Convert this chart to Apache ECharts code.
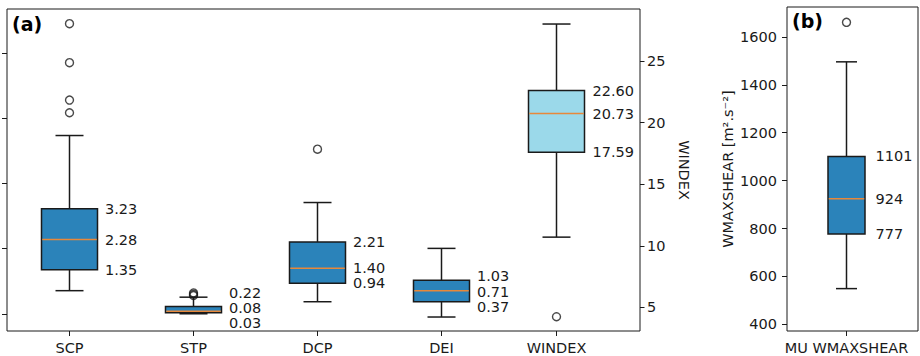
<!DOCTYPE html>
<html>
<head>
<meta charset="utf-8">
<script src="https://cdn.jsdelivr.net/npm/echarts@6/dist/echarts.min.js"></script>
<style>
  html, body { margin: 0; padding: 0; background: #fff; }
  #chart { width: 920px; height: 356px; }
</style>
</head>
<body>
<div id="chart"></div>
<script>
// ---------------- data ----------------
const catsA = ['SCP', 'STP', 'DCP', 'DEI'];
const catsW = ['WINDEX'];
const catsB = ['MU WMAXSHEAR'];

// box stats: [lower whisker, Q1, median, Q3, upper whisker]
const scpBox    = [0.71, 1.35, 2.28, 3.23, 5.48];
const stpBox    = [0.00, 0.03, 0.08, 0.22, 0.51];
const dcpBox    = [0.37, 0.94, 1.40, 2.21, 3.42];
const deiBox    = [-0.10, 0.37, 0.71, 1.03, 2.01];
const windexBox = [10.7, 17.59, 20.73, 22.60, 28.0];
const wmaxBox   = [549, 777, 924, 1101, 1496];

// outliers
const scpOut    = [8.92, 7.72, 6.57, 6.18];
const stpOut    = [0.56, 0.60, 0.64];
const dcpOut    = [5.06];
const deiOut    = [];
const windexOut = [4.24];
const wmaxOut   = [1661];

// axis ticks
const leftTicks   = [0, 2, 4, 6, 8];
const windexTicks = [5, 10, 15, 20, 25];
const wmaxTicks   = [400, 600, 800, 1000, 1200, 1400, 1600];

// axis ranges
const leftRange   = [-0.53, 9.37];
const windexRange = [3.08, 29.22];
const wmaxRange   = [372, 1725];

// ---------------- style ----------------
const FONT = '"DejaVu Sans", "Liberation Sans", sans-serif';
const FS = 14.5;
const INK = '#1a1a1a';
const BLUE = '#2b83ba';
const LIGHT = '#9bd9ea';
const ORANGE = '#e8883a';

// vertical nudges (px) for stat labels [Q1, median, Q3]
const nudge = { STP: [10.2, -3.2, -13.6], DEI: [4.8, 1, -3.8] };

function boxRenderer(cats, boxW, capW, fill, labelDx, decimals) {
  return function (params, api) {
    const i = api.value(0);
    const vals = [api.value(1), api.value(2), api.value(3), api.value(4), api.value(5)];
    const p = vals.map(v => api.coord([i, v]));
    const cx = p[0][0];
    const hw = boxW / 2, cw = capW / 2;
    const line = (x1, y1, x2, y2, stroke) => ({
      type: 'line', shape: { x1, y1, x2, y2 },
      style: { stroke: stroke || INK, lineWidth: 1.5 }
    });
    const ch = [
      line(cx, p[3][1], cx, p[4][1]),
      line(cx, p[0][1], cx, p[1][1]),
      line(cx - cw, p[4][1], cx + cw, p[4][1]),
      line(cx - cw, p[0][1], cx + cw, p[0][1]),
      {
        type: 'rect',
        shape: { x: cx - hw, y: p[3][1], width: boxW, height: p[1][1] - p[3][1] },
        style: { fill: fill, stroke: INK, lineWidth: 1.5 }
      },
      line(cx - hw + 0.75, p[2][1], cx + hw - 0.75, p[2][1], ORANGE)
    ];
    const nd = nudge[cats[i]] || [0, 0, 0];
    [1, 2, 3].forEach((k, j) => {
      ch.push({
        type: 'text',
        style: {
          x: cx + labelDx, y: p[k][1] + nd[j],
          text: vals[k].toFixed(decimals),
          fill: INK, fontSize: FS, fontFamily: FONT, lineHeight: 12,
          align: 'left', verticalAlign: 'middle'
        }
      });
    });
    return { type: 'group', children: ch };
  };
}

function outData(cat, arr) { return arr.map(v => [cat, v]); }

const axisText = { color: INK, fontSize: FS, fontFamily: FONT };
const plain = v => String(v);

const chart = echarts.init(document.getElementById('chart'), null, { renderer: 'svg' });

const catAxis = (gridIndex, data) => ({
  gridIndex, type: 'category', data,
  axisLine: { show: false, onZero: false },
  axisTick: { show: true, alignWithLabel: true, length: 5, lineStyle: { color: INK } },
  axisLabel: Object.assign({ margin: 9 }, axisText)
});

const option = {
  animation: false,
  backgroundColor: '#fff',
  grid: [
    { left: 7, top: 9, width: 633, height: 322, show: true, borderColor: INK, borderWidth: 1, backgroundColor: 'rgba(0,0,0,0)' },
    { left: 7.5, top: 9, width: 496, height: 322 },
    { left: 494.5, top: 9, width: 124, height: 322 },
    { left: 787, top: 7, width: 131, height: 324, show: true, borderColor: INK, borderWidth: 1, backgroundColor: 'rgba(0,0,0,0)' },
    { left: 806.5, top: 7, width: 80, height: 324 }
  ],
  xAxis: [
    { gridIndex: 0, type: 'value', show: false, min: 0, max: 1 },
    catAxis(1, catsA),
    catAxis(2, catsW),
    { gridIndex: 3, type: 'value', show: false, min: 0, max: 1 },
    catAxis(4, catsB)
  ],
  yAxis: [
    {
      gridIndex: 0, type: 'value', position: 'left', min: leftRange[0], max: leftRange[1],
      axisLine: { show: false }, splitLine: { show: false },
      axisTick: { show: true, length: 5, customValues: leftTicks, lineStyle: { color: INK } },
      axisLabel: { show: false }
    },
    {
      gridIndex: 0, type: 'value', position: 'right', min: windexRange[0], max: windexRange[1],
      axisLine: { show: false }, splitLine: { show: false },
      axisTick: { show: true, length: 4.5, customValues: windexTicks, lineStyle: { color: INK } },
      axisLabel: Object.assign({ customValues: windexTicks, margin: 7, formatter: plain }, axisText),
      name: 'WINDEX', nameLocation: 'middle', nameRotate: -90, nameGap: 31,
      nameTextStyle: { color: INK, fontSize: FS, fontFamily: FONT }
    },
    { gridIndex: 1, type: 'value', show: false, min: leftRange[0], max: leftRange[1] },
    { gridIndex: 2, type: 'value', show: false, min: windexRange[0], max: windexRange[1] },
    {
      gridIndex: 3, type: 'value', position: 'left', min: wmaxRange[0], max: wmaxRange[1],
      axisLine: { show: false }, splitLine: { show: false },
      axisTick: { show: true, length: 5, customValues: wmaxTicks, lineStyle: { color: INK } },
      axisLabel: Object.assign({ customValues: wmaxTicks, margin: 10, formatter: plain }, axisText),
      name: 'WMAXSHEAR [m\u00B2.s\u207B\u00B2]', nameLocation: 'middle', nameRotate: 90, nameGap: 52,
      nameTextStyle: { color: INK, fontSize: FS, fontFamily: FONT }
    },
    { gridIndex: 4, type: 'value', show: false, min: wmaxRange[0], max: wmaxRange[1] }
  ],
  series: [
    {
      type: 'custom', xAxisIndex: 1, yAxisIndex: 2,
      renderItem: boxRenderer(catsA, 56, 28, BLUE, 35.5, 2),
      data: [[0].concat(scpBox), [1].concat(stpBox), [2].concat(dcpBox), [3].concat(deiBox)]
    },
    {
      type: 'custom', xAxisIndex: 2, yAxisIndex: 3,
      renderItem: boxRenderer(catsW, 56, 28, LIGHT, 36, 2),
      data: [[0].concat(windexBox)]
    },
    {
      type: 'custom', xAxisIndex: 4, yAxisIndex: 5,
      renderItem: boxRenderer(catsB, 37, 21, BLUE, 29, 0),
      data: [[0].concat(wmaxBox)]
    },
    {
      type: 'scatter', xAxisIndex: 1, yAxisIndex: 2, symbol: 'circle', symbolSize: 8,
      itemStyle: { color: 'rgba(0,0,0,0)', borderColor: INK, borderWidth: 1.4 },
      data: [].concat(outData('SCP', scpOut), outData('STP', stpOut), outData('DCP', dcpOut), outData('DEI', deiOut))
    },
    {
      type: 'scatter', xAxisIndex: 2, yAxisIndex: 3, symbol: 'circle', symbolSize: 8,
      itemStyle: { color: 'rgba(0,0,0,0)', borderColor: INK, borderWidth: 1.4 },
      data: outData('WINDEX', windexOut)
    },
    {
      type: 'scatter', xAxisIndex: 4, yAxisIndex: 5, symbol: 'circle', symbolSize: 8,
      itemStyle: { color: 'rgba(0,0,0,0)', borderColor: INK, borderWidth: 1.4 },
      data: outData('MU WMAXSHEAR', wmaxOut)
    }
  ],
  graphic: [
    { type: 'text', left: 12, top: 14, style: { text: '(a)', fill: '#000', font: 'bold 19px ' + FONT } },
    { type: 'text', left: 792, top: 11, style: { text: '(b)', fill: '#000', font: 'bold 19px ' + FONT } }
  ]
};

chart.setOption(option);
</script>
</body>
</html>
